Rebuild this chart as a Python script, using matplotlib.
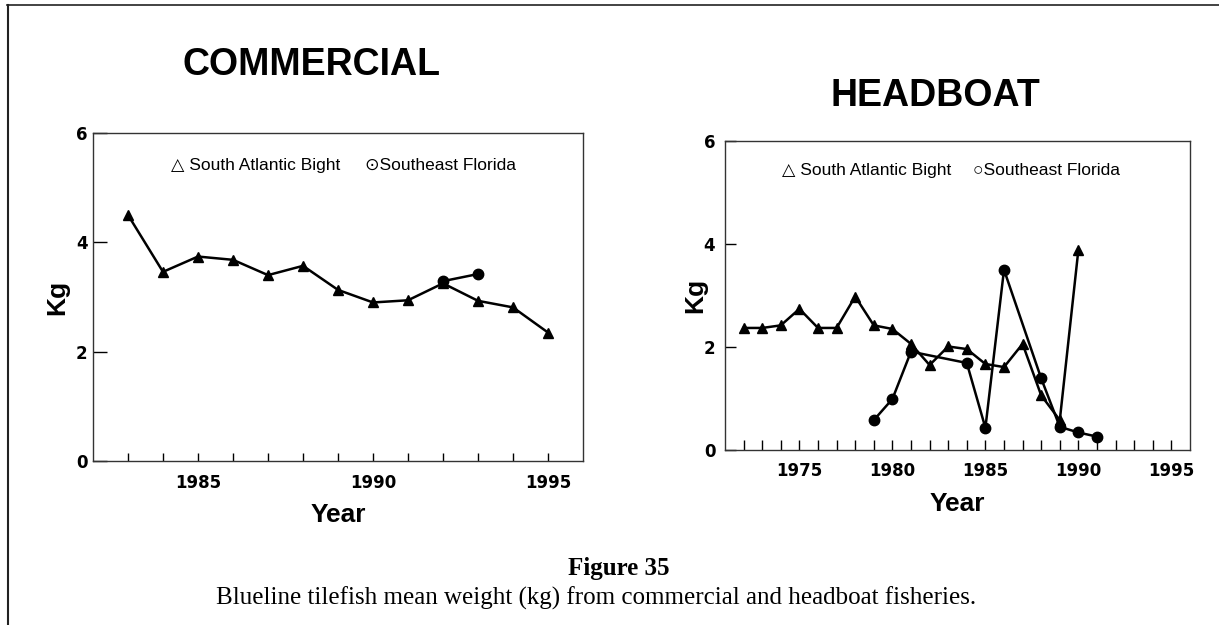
import matplotlib
matplotlib.use("Agg")
import matplotlib.pyplot as plt
from matplotlib.lines import Line2D

# Commercial fishery, mean weight (kg)
com_years_sab = [1983, 1984, 1985, 1986, 1987, 1988, 1989, 1990, 1991, 1992, 1993, 1994, 1995]
com_kg_sab = [4.50, 3.46, 3.74, 3.68, 3.40, 3.57, 3.13, 2.90, 2.94, 3.25, 2.93, 2.81, 2.35]
com_years_sef = [1992, 1993]
com_kg_sef = [3.29, 3.42]

# Headboat fishery, mean weight (kg)
hb_years_sab = [1972, 1973, 1974, 1975, 1976, 1977, 1978, 1979, 1980, 1981,
                1982, 1983, 1984, 1985, 1986, 1987, 1988, 1989, 1990]
hb_kg_sab = [2.37, 2.37, 2.42, 2.74, 2.37, 2.37, 2.98, 2.42, 2.35, 2.06,
             1.65, 2.01, 1.96, 1.67, 1.61, 2.06, 1.06, 0.58, 3.89]
hb_years_sef = [1979, 1980, 1981, 1984, 1985, 1986, 1988, 1989, 1990, 1991]
hb_kg_sef = [0.58, 0.99, 1.91, 1.69, 0.43, 3.50, 1.39, 0.45, 0.34, 0.26]

SANS = ["Liberation Sans", "DejaVu Sans"]

W, H = 1219, 625
fig = plt.figure(figsize=(W / 100, H / 100), dpi=100)


def px_axes(x0, y0, x1, y1):
    return fig.add_axes([x0 / W, 1 - y1 / H, (x1 - x0) / W, (y1 - y0) / H])


def style_axes(ax, xlim, tick_years, label_years, ylen, xlen, xpad, ypad):
    ax.set_xlim(*xlim)
    ax.set_ylim(0, 6)
    ax.set_xticks(tick_years)
    ax.set_xticklabels([str(y) if y in label_years else "" for y in tick_years])
    ax.set_yticks([0, 2, 4, 6])
    ax.tick_params(axis="x", direction="in", length=xlen, width=1, pad=xpad)
    ax.tick_params(axis="y", direction="in", length=ylen, width=1, pad=ypad)
    for lab in ax.get_xticklabels() + ax.get_yticklabels():
        lab.set_fontfamily("DejaVu Sans")
        lab.set_fontweight("bold")
        lab.set_fontsize(12)
    for sp in ax.spines.values():
        sp.set_linewidth(1.0)
        sp.set_color("#333333")


def draw_series(ax, xs, ys, marker):
    ax.plot(xs, ys, color="black", lw=1.8, marker=marker, ms=7.5,
            mfc="black", mec="black", clip_on=False)


# --- COMMERCIAL ---
ax1 = px_axes(93, 133, 583, 461)
draw_series(ax1, com_years_sab, com_kg_sab, "^")
draw_series(ax1, com_years_sef, com_kg_sef, "o")
style_axes(ax1, (1982, 1996), list(range(1983, 1996)), [1985, 1990, 1995],
           ylen=10, xlen=6, xpad=9, ypad=4)
ax1.set_xlabel("Year", fontsize=19, fontweight="bold", family=SANS)
ax1.xaxis.set_label_coords(0.5, -0.165)
ax1.xaxis.label.set_va("center")
ax1.set_ylabel("Kg", fontsize=19, fontweight="bold", family=SANS)
ax1.yaxis.set_label_coords(-0.0735, 0.5)
ax1.yaxis.label.set_va("center")
ax1.text(0.159, 0.902, "\u25b3 South Atlantic Bight", transform=ax1.transAxes,
         ha="left", va="center", fontsize=12.5, family=SANS)
ax1.text(0.555, 0.902, "\u2299Southeast Florida", transform=ax1.transAxes,
         ha="left", va="center", fontsize=12.5, family=SANS)

# --- HEADBOAT ---
ax2 = px_axes(725, 141, 1190, 450)
draw_series(ax2, hb_years_sab, hb_kg_sab, "^")
draw_series(ax2, hb_years_sef, hb_kg_sef, "o")
style_axes(ax2, (1971, 1996), list(range(1972, 1996)), [1975, 1980, 1985, 1990, 1995],
           ylen=8, xlen=7, xpad=9, ypad=7)
ax2.set_xlabel("Year", fontsize=19, fontweight="bold", family=SANS)
ax2.xaxis.set_label_coords(0.5, -0.175)
ax2.xaxis.label.set_va("center")
ax2.set_ylabel("Kg", fontsize=19, fontweight="bold", family=SANS)
ax2.yaxis.set_label_coords(-0.0645, 0.5)
ax2.yaxis.label.set_va("center")
ax2.text(0.1226, 0.903, "\u25b3 South Atlantic Bight", transform=ax2.transAxes,
         ha="left", va="center", fontsize=12.5, family=SANS)
ax2.text(0.533, 0.903, "\u25cbSoutheast Florida", transform=ax2.transAxes,
         ha="left", va="center", fontsize=12.5, family=SANS)

# panel titles
fig.text(312 / W, 1 - 65 / H, "COMMERCIAL", ha="center", va="center",
         fontsize=27, fontweight="bold", family=SANS)
fig.text(935 / W, 1 - 96 / H, "HEADBOAT", ha="center", va="center",
         fontsize=27, fontweight="bold", family=SANS)

# caption
fig.text(619 / W, 1 - 569 / H, "Figure 35", ha="center", va="center",
         fontsize=18, fontweight="bold", family="Liberation Serif")
fig.text(596 / W, 1 - 598 / H,
         "Blueline tilefish mean weight (kg) from commercial and headboat fisheries.",
         ha="center", va="center", fontsize=18, family="Liberation Serif")

# page frame
fig.add_artist(Line2D([7 / W, 1], [1 - 5 / H, 1 - 5 / H], color="#222222", lw=1.2))
fig.add_artist(Line2D([8 / W, 8 / W], [0, 1 - 5 / H], color="#222222", lw=1.5))

fig.savefig("out.png", dpi=100)
